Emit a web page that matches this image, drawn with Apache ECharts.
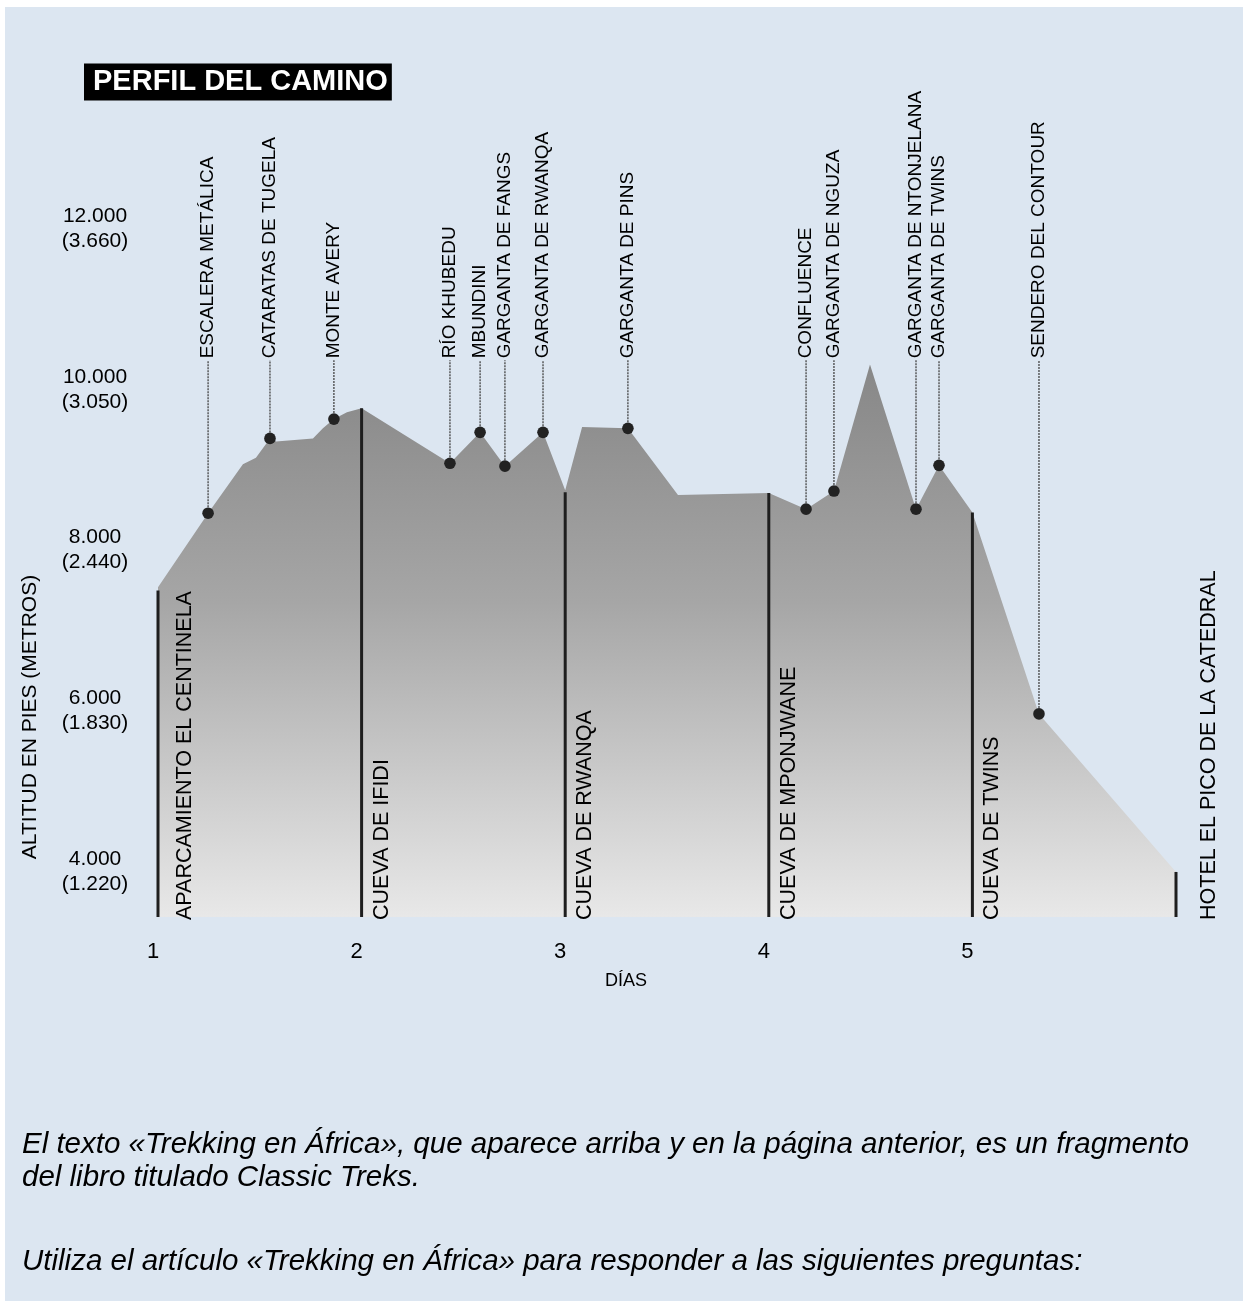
<!DOCTYPE html>
<html>
<head>
<meta charset="utf-8">
<script src="https://cdn.jsdelivr.net/npm/echarts@6/dist/echarts.min.js"></script>
<style>
  body { margin: 0; background: #fff; }
  #main { width: 1243px; height: 1301px; }
</style>
</head>
<body>
<div id="main"></div>
<script>
// elevation profile (day of trek, feet)
var profileDays = [1.0, 1.246, 1.417, 1.481, 1.55, 1.58, 1.761, 1.81, 1.864, 1.928, 2.0, 2.434, 2.582, 2.704, 2.891, 3.0, 3.083, 3.308, 3.554, 4.0, 4.183, 4.32, 4.497, 4.723, 4.836, 5.0, 5.327, 6.0];
var profileFeet = [7540, 8460, 9070, 9150, 9390, 9350, 9390, 9515, 9630, 9715, 9765, 9080, 9465, 9045, 9465, 8745, 9530, 9515, 8685, 8710, 8510, 8735, 10310, 8510, 9055, 8470, 5965, 4000];

// labelled points on the trail
var landmarkNames = ['ESCALERA METÁLICA', 'CATARATAS DE TUGELA', 'MONTE AVERY', 'RÍO KHUBEDU', 'MBUNDINI', 'GARGANTA DE FANGS', 'GARGANTA DE RWANQA', 'GARGANTA DE PINS', 'CONFLUENCE', 'GARGANTA DE NGUZA', 'GARGANTA DE NTONJELANA', 'GARGANTA DE TWINS', 'SENDERO DEL CONTOUR'];
var landmarkDays = [1.246, 1.55, 1.864, 2.434, 2.582, 2.704, 2.891, 3.308, 4.183, 4.32, 4.723, 4.836, 5.327];
var landmarkFeet = [8460, 9390, 9630, 9080, 9465, 9045, 9465, 9515, 8510, 8735, 8510, 9055, 5965];

// overnight stops
var hutNames = ['APARCAMIENTO EL CENTINELA', 'CUEVA DE IFIDI', 'CUEVA DE RWANQA', 'CUEVA DE MPONJWANE', 'CUEVA DE TWINS', 'HOTEL EL PICO DE LA CATEDRAL'];
var hutDays = [1, 2, 3, 4, 5, 6];
var hutFeet = [7500, 9765, 8720, 8710, 8470, 4000];

// axis ticks
var dayTicks = [1, 2, 3, 4, 5];
var feetTicks = [4000, 6000, 8000, 10000, 12000];
var metreTicks = [1220, 1830, 2440, 3050, 3660];

var Y_MIN = 3440;
var Y_MAX = 13000;
var LEADER_TOP = 10360;
var FONT = "'Liberation Sans', Arial, sans-serif";

function dots(n) {
  return String(n).replace(/\B(?=(\d{3})+(?!\d))/g, '.');
}

var chart = echarts.init(document.getElementById('main'));

var option = {
  backgroundColor: '#fff',
  animation: false,
  title: {
    text: 'PERFIL DEL CAMINO',
    left: 84,
    top: 64,
    backgroundColor: '#000',
    padding: [4, 4, 4, 9],
    textStyle: { color: '#fff', fontSize: 29, fontWeight: 'bold', fontFamily: FONT, lineHeight: 28 }
  },
  graphic: [
    { type: 'rect', z: -10, silent: true, shape: { x: 5, y: 7, width: 1238, height: 1294 }, style: { fill: '#dce6f1' } },
    { type: 'text', x: 30, y: 717, rotation: Math.PI / 2, silent: true,
      style: { text: 'ALTITUD EN PIES (METROS)', font: '21px ' + FONT, fill: '#000', align: 'center', verticalAlign: 'middle' } },
    { type: 'text', x: 22, y: 1145, silent: true,
      style: { text: 'El texto «Trekking en África», que aparece arriba y en la página anterior, es un fragmento', font: 'italic 29.5px ' + FONT, fill: '#000', verticalAlign: 'middle' } },
    { type: 'text', x: 22, y: 1178, silent: true,
      style: { text: 'del libro titulado Classic Treks.', font: 'italic 29.5px ' + FONT, fill: '#000', verticalAlign: 'middle' } },
    { type: 'text', x: 22, y: 1262, silent: true,
      style: { text: 'Utiliza el artículo «Trekking en África» para responder a las siguientes preguntas:', font: 'italic 29.5px ' + FONT, fill: '#000', verticalAlign: 'middle' } }
  ],
  grid: { left: 158, right: 67, top: 148, bottom: 384 },
  xAxis: {
    type: 'value',
    min: 1,
    max: 6,
    interval: 1,
    name: 'DÍAS',
    nameLocation: 'middle',
    nameGap: 55,
    nameTextStyle: { fontSize: 18, color: '#000', fontFamily: FONT, padding: [0, 82, 0, 0] },
    axisLine: { show: false },
    axisTick: { show: false },
    splitLine: { show: false },
    axisLabel: {
      fontSize: 22,
      color: '#000',
      fontFamily: FONT,
      margin: 24,
      padding: [0, 10, 0, 0],
      formatter: function (v) { return dayTicks.indexOf(v) >= 0 ? String(v) : ''; }
    }
  },
  yAxis: {
    type: 'value',
    min: Y_MIN,
    max: Y_MAX,
    axisLine: { show: false },
    axisTick: { show: false },
    splitLine: { show: false },
    axisLabel: {
      customValues: feetTicks,
      align: 'center',
      margin: 63,
      fontSize: 21,
      lineHeight: 25,
      color: '#000',
      fontFamily: FONT,
      formatter: function (v) {
        var i = feetTicks.indexOf(v);
        return dots(v) + '\n(' + dots(metreTicks[i]) + ')';
      }
    }
  },
  series: [
    {
      type: 'line',
      silent: true,
      symbol: 'none',
      lineStyle: { width: 0 },
      areaStyle: {
        origin: 'start',
        opacity: 1,
        color: {
          type: 'linear', x: 0, y: 0, x2: 0, y2: 1,
          colorStops: [
            { offset: 0, color: '#888888' },
            { offset: 0.1, color: '#8e8e8e' },
            { offset: 0.43, color: '#a6a6a6' },
            { offset: 1, color: '#e8e8e8' }
          ]
        }
      },
      data: profileDays.map(function (d, i) { return [d, profileFeet[i]]; })
    },
    {
      type: 'custom',
      silent: true,
      z: 4,
      data: hutDays.map(function (d, i) { return [d, hutFeet[i]]; }),
      renderItem: function (params, api) {
        var i = params.dataIndex;
        var top = api.coord([api.value(0), api.value(1)]);
        var bot = api.coord([api.value(0), Y_MIN]);
        var off = i === 0 ? 27 : (i === hutNames.length - 1 ? 33 : 20);
        return {
          type: 'group',
          children: [
            { type: 'line', shape: { x1: top[0], y1: bot[1], x2: top[0], y2: top[1] },
              style: { stroke: '#1e1e1e', lineWidth: 3 } },
            { type: 'text', x: bot[0] + off, y: bot[1] + 3, rotation: Math.PI / 2,
              style: { text: hutNames[i], font: '21.5px ' + FONT, fill: '#000', align: 'left', verticalAlign: 'middle' } }
          ]
        };
      }
    },
    {
      type: 'custom',
      silent: true,
      z: 5,
      data: landmarkDays.map(function (d, i) { return [d, landmarkFeet[i]]; }),
      renderItem: function (params, api) {
        var i = params.dataIndex;
        var p = api.coord([api.value(0), api.value(1)]);
        var top = api.coord([api.value(0), LEADER_TOP]);
        return {
          type: 'group',
          children: [
            { type: 'line', shape: { x1: p[0], y1: p[1], x2: p[0], y2: top[1] },
              style: { stroke: '#444', lineWidth: 1.3, lineDash: [2, 1] } },
            { type: 'circle', shape: { cx: p[0], cy: p[1], r: 5.8 }, style: { fill: '#222' } },
            { type: 'text', x: top[0], y: top[1] - 2, rotation: Math.PI / 2,
              style: { text: landmarkNames[i], font: '19px ' + FONT, fill: '#000', align: 'left', verticalAlign: 'middle' } }
          ]
        };
      }
    }
  ]
};

chart.setOption(option);
</script>
</body>
</html>
